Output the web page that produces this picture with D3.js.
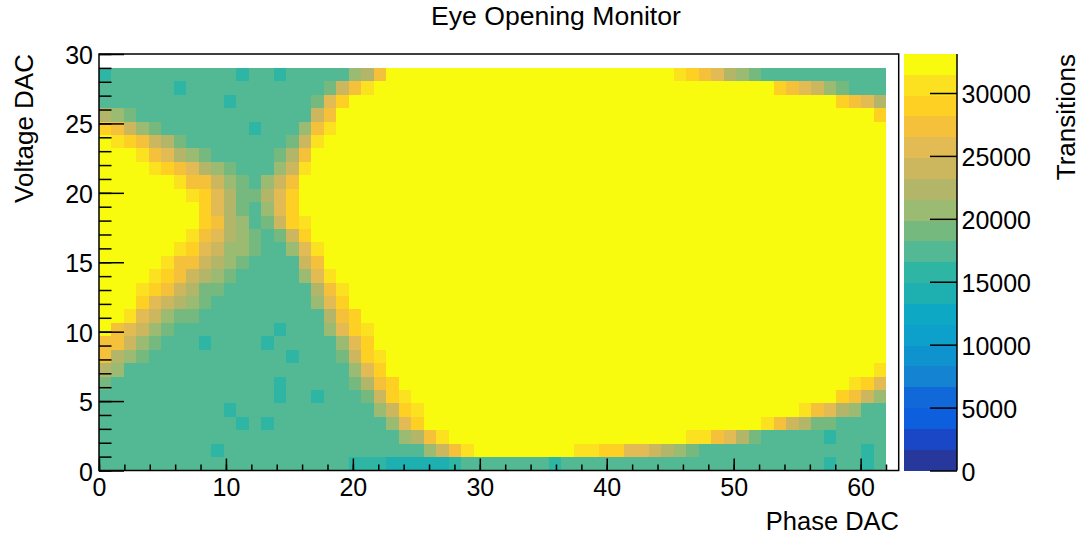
<!DOCTYPE html>
<html>
<head>
<meta charset="utf-8">
<style>
	html, body { margin: 0; background: #fff; }
	svg { display: block; font-family: 'Liberation Sans', Arial, sans-serif; }
	text { fill: #000; }
</style>
<script src="https://d3js.org/d3.v7.min.js"></script>
</head>
<body>
<div id="chart"></div>
<script>
//transitions per cell, in hundreds, one row per voltage bin, top row first.
//each row is run length pairs [number of phase bins, value] to keep it readable
const voltageRows = [
	[[1,157],[10,174],[1,157],[2,174],[1,157],[5,174],[1,207],[1,223],[1,273],[23,323],[1,306],[1,290],[1,273],[1,256],[1,223],[1,207],[1,190],[10,174]],
	[[6,174],[1,157],[11,174],[1,190],[1,240],[1,273],[1,306],[32,323],[1,290],[1,273],[1,256],[1,240],[1,207],[1,190],[3,174]],
	[[10,174],[1,157],[6,174],[1,190],[1,256],[1,290],[39,323],[1,290],[1,273],[1,256],[1,223]],
	[[1,223],[1,207],[1,190],[14,174],[1,240],[1,273],[43,323],[1,290]],
	[[1,290],[1,273],[1,240],[1,207],[1,190],[7,174],[1,157],[3,174],[1,207],[1,273],[1,306],[44,323]],
	[[1,323],[1,306],[1,290],[1,273],[1,240],[1,223],[1,190],[8,174],[1,190],[1,240],[1,306],[45,323]],
	[[3,323],[1,306],[1,273],[1,256],[1,223],[1,207],[1,190],[5,174],[1,190],[1,223],[1,273],[46,323]],
	[[4,323],[1,306],[1,290],[1,273],[1,256],[1,223],[1,207],[1,190],[3,174],[1,207],[1,240],[1,306],[46,323]],
	[[6,323],[1,306],[2,273],[1,240],[1,207],[1,190],[1,174],[1,207],[1,240],[1,273],[47,323]],
	[[7,323],[1,306],[1,290],[1,256],[1,223],[2,190],[1,223],[1,256],[1,290],[47,323]],
	[[8,323],[1,290],[1,256],[1,223],[1,190],[1,174],[1,207],[1,256],[1,290],[47,323]],
	[[8,323],[1,290],[1,273],[1,223],[1,207],[1,174],[1,190],[1,240],[1,290],[1,306],[46,323]],
	[[7,323],[1,306],[1,273],[1,256],[1,223],[1,207],[1,190],[1,174],[1,190],[1,240],[1,290],[46,323]],
	[[6,323],[1,306],[1,290],[1,256],[1,240],[2,207],[1,190],[2,174],[1,207],[1,256],[1,306],[45,323]],
	[[5,323],[1,306],[2,273],[1,240],[1,223],[1,207],[1,190],[4,174],[1,240],[1,273],[45,323]],
	[[4,323],[1,306],[1,290],[1,273],[1,240],[1,223],[1,207],[1,190],[5,174],[1,207],[1,256],[1,306],[44,323]],
	[[3,323],[1,306],[1,290],[1,273],[1,240],[1,223],[2,190],[7,174],[1,223],[1,273],[1,306],[43,323]],
	[[3,323],[1,290],[1,256],[1,240],[1,223],[1,207],[1,190],[8,174],[1,207],[1,256],[1,290],[43,323]],
	[[2,323],[1,306],[1,256],[1,240],[1,207],[2,190],[10,174],[1,223],[1,273],[1,290],[42,323]],
	[[1,323],[1,273],[1,256],[1,240],[1,207],[1,190],[8,174],[1,157],[3,174],[1,207],[1,256],[1,290],[1,306],[41,323]],
	[[2,273],[1,240],[1,207],[1,190],[3,174],[1,157],[4,174],[1,157],[5,174],[1,207],[1,256],[1,290],[41,323]],
	[[1,273],[1,223],[1,207],[1,190],[11,174],[1,157],[3,174],[1,190],[1,240],[1,290],[1,306],[40,323]],
	[[1,223],[1,207],[18,174],[1,207],[1,256],[1,290],[39,323],[1,306]],
	[[1,190],[13,174],[1,157],[5,174],[1,190],[1,223],[1,273],[1,290],[36,323],[1,306],[1,290],[1,256]],
	[[14,174],[1,157],[2,174],[1,157],[3,174],[1,190],[1,240],[1,290],[1,306],[34,323],[1,290],[1,273],[1,240],[1,207]],
	[[10,174],[1,157],[11,174],[1,207],[1,240],[1,290],[1,306],[30,323],[1,306],[1,273],[1,256],[1,223],[1,207],[2,174]],
	[[11,174],[1,157],[1,174],[1,157],[9,174],[1,207],[1,256],[1,290],[27,323],[1,306],[1,273],[1,240],[1,223],[2,190],[4,174]],
	[[24,174],[1,207],[1,223],[1,273],[1,306],[19,323],[2,306],[1,273],[1,256],[1,223],[1,190],[5,174],[1,157],[4,174]],
	[[9,174],[1,157],[16,174],[1,207],[1,240],[1,273],[1,306],[8,323],[2,306],[2,290],[2,256],[1,240],[1,223],[1,207],[1,190],[13,174],[1,157],[1,174]],
	[[20,174],[3,157],[5,140],[1,157],[7,174],[1,157],[21,174],[1,157],[2,174],[1,157],[1,174]]
];

//colour bands of the palette, lowest first
const palette = ['#27389c', '#1a47c6', '#0e5fde', '#1168d9', '#1484d2', '#0e93ce', '#0da0ca', '#0da8c4', '#1eafb0', '#2eb5a4',
	'#53b994', '#76b97e', '#9abb71', '#b3b668', '#ccb75f', '#e3bb55', '#f5c03a', '#ffd024', '#fbe11f', '#f9fb0e'];

const maxTransitions = 33100;
const phaseBins = 63;
const phaseMax = 62;
const voltageBins = 30;
const voltageMax = 29;

const xMajorTicks = [0, 10, 20, 30, 40, 50, 60];
const xMinorTicks = d3.range(0, 63, 2);
const yMajorTicks = [0, 5, 10, 15, 20, 25, 30];
const yMinorTicks = d3.range(0, 31, 1);
const colorTicks = [0, 5000, 10000, 15000, 20000, 25000, 30000];

//dimensions of the plot
const width = 1080;
const height = 535;
const margin = { top: 54, right: 181.3, bottom: 64.5, left: 99 };
const plotWidth = width - margin.left - margin.right;
const plotHeight = height - margin.top - margin.bottom;

const x = d3.scaleLinear().domain([ 0, 63 ]).range([ 0, plotWidth ]);
const y = d3.scaleLinear().domain([ 0, 30 ]).range([ plotHeight, 0 ]);
const color = d3.scaleQuantize().domain([ 0, maxTransitions ]).range(palette);

//bins are spread over the histogram range, not the axis units
const xBin = d3.scaleLinear().domain([ 0, phaseBins ]).range([ x(0), x(phaseMax) ]);
const yBin = d3.scaleLinear().domain([ 0, voltageBins ]).range([ y(0), y(voltageMax) ]);

//flatten the run lengths into one record per cell
const cells = [];
voltageRows.forEach((row, i) => {
	let phase = 0;
	row.forEach(([ count, value ]) => {
		for (let n = 0; n < count; n++) {
			cells.push({ phase: phase, voltage: voltageBins - 1 - i, value: value * 100 });
			phase++;
		}
	});
});

const svg = d3
	.select('#chart')
	.append('svg')
	.attr('width', width)
	.attr('height', height);

const g = svg.append('g').attr('transform', `translate(${margin.left}, ${margin.top})`);

g
	.selectAll('rect.cell')
	.data(cells)
	.enter()
	.append('rect')
	.attr('class', 'cell')
	.attr('x', (d) => xBin(d.phase))
	.attr('y', (d) => yBin(d.voltage + 1))
	.attr('width', (d) => xBin(d.phase + 1) - xBin(d.phase))
	.attr('height', (d) => yBin(d.voltage) - yBin(d.voltage + 1))
	.attr('fill', (d) => color(d.value))
	.attr('shape-rendering', 'crispEdges');

//frame around the plot
g
	.append('rect')
	.attr('width', plotWidth)
	.attr('height', plotHeight)
	.attr('fill', 'none')
	.attr('stroke', '#000')
	.attr('stroke-width', 1.5);

function styleAxis(sel) {
	sel.select('.domain').remove();
	sel.selectAll('line').attr('stroke', '#000').attr('stroke-width', 1.5);
	sel.selectAll('text').style('font-size', '25px').attr('fill', '#000');
}

//side axes sit their labels a little lower than d3's default
function lowerLabels(sel) {
	sel.selectAll('text').attr('dy', '0.38em');
}

//x axis, ticks point into the plot
g
	.append('g')
	.attr('transform', `translate(0, ${plotHeight})`)
	.call(d3.axisBottom(x).tickValues(xMinorTicks).tickSize(-6).tickFormat(''))
	.call(styleAxis);

g
	.append('g')
	.attr('transform', `translate(0, ${plotHeight})`)
	.call(d3.axisBottom(x).tickValues(xMajorTicks).tickSize(-12).tickPadding(8).tickFormat(d3.format('d')))
	.call(styleAxis);

//y axis
g
	.append('g')
	.call(d3.axisLeft(y).tickValues(yMinorTicks).tickSize(-12.5).tickFormat(''))
	.call(styleAxis);

g
	.append('g')
	.call(d3.axisLeft(y).tickValues(yMajorTicks).tickSize(-25).tickPadding(6).tickFormat(d3.format('d')))
	.call(styleAxis)
	.call(lowerLabels);

//colour bar on the right
const barLeft = 904;
const barRight = 957;
const colorY = d3.scaleLinear().domain([ 0, maxTransitions ]).range([ margin.top + plotHeight, margin.top ]);
const bandHeight = maxTransitions / palette.length;

svg
	.append('g')
	.selectAll('rect')
	.data(palette)
	.enter()
	.append('rect')
	.attr('x', barLeft)
	.attr('y', (d, i) => colorY((i + 1) * bandHeight))
	.attr('width', barRight - barLeft)
	.attr('height', (d, i) => colorY(i * bandHeight) - colorY((i + 1) * bandHeight))
	.attr('fill', (d) => d)
	.attr('shape-rendering', 'crispEdges');

const colorAxis = svg
	.append('g')
	.attr('transform', `translate(${barRight}, 0)`)
	.call(d3.axisRight(colorY).tickValues(colorTicks).tickSize(-27).tickPadding(4.5).tickFormat(d3.format('d')))
	.call(styleAxis)
	.call(lowerLabels);

colorAxis
	.append('line')
	.attr('y1', colorY(0))
	.attr('y2', colorY(maxTransitions))
	.attr('stroke', '#000')
	.attr('stroke-width', 1.5);

//titles
svg
	.append('text')
	.attr('x', 556)
	.attr('y', 24.5)
	.attr('text-anchor', 'middle')
	.style('font-size', '26.6px')
	.text('Eye Opening Monitor');

svg
	.append('text')
	.attr('x', 899)
	.attr('y', 529.5)
	.attr('text-anchor', 'end')
	.style('font-size', '25.5px')
	.text('Phase DAC');

svg
	.append('text')
	.attr('transform', 'translate(33, 54) rotate(-90)')
	.attr('text-anchor', 'end')
	.style('font-size', '26px')
	.text('Voltage DAC');

svg
	.append('text')
	.attr('transform', 'translate(1075, 54) rotate(-90)')
	.attr('text-anchor', 'end')
	.style('font-size', '26px')
	.text('Transitions');
</script>
</body>
</html>
